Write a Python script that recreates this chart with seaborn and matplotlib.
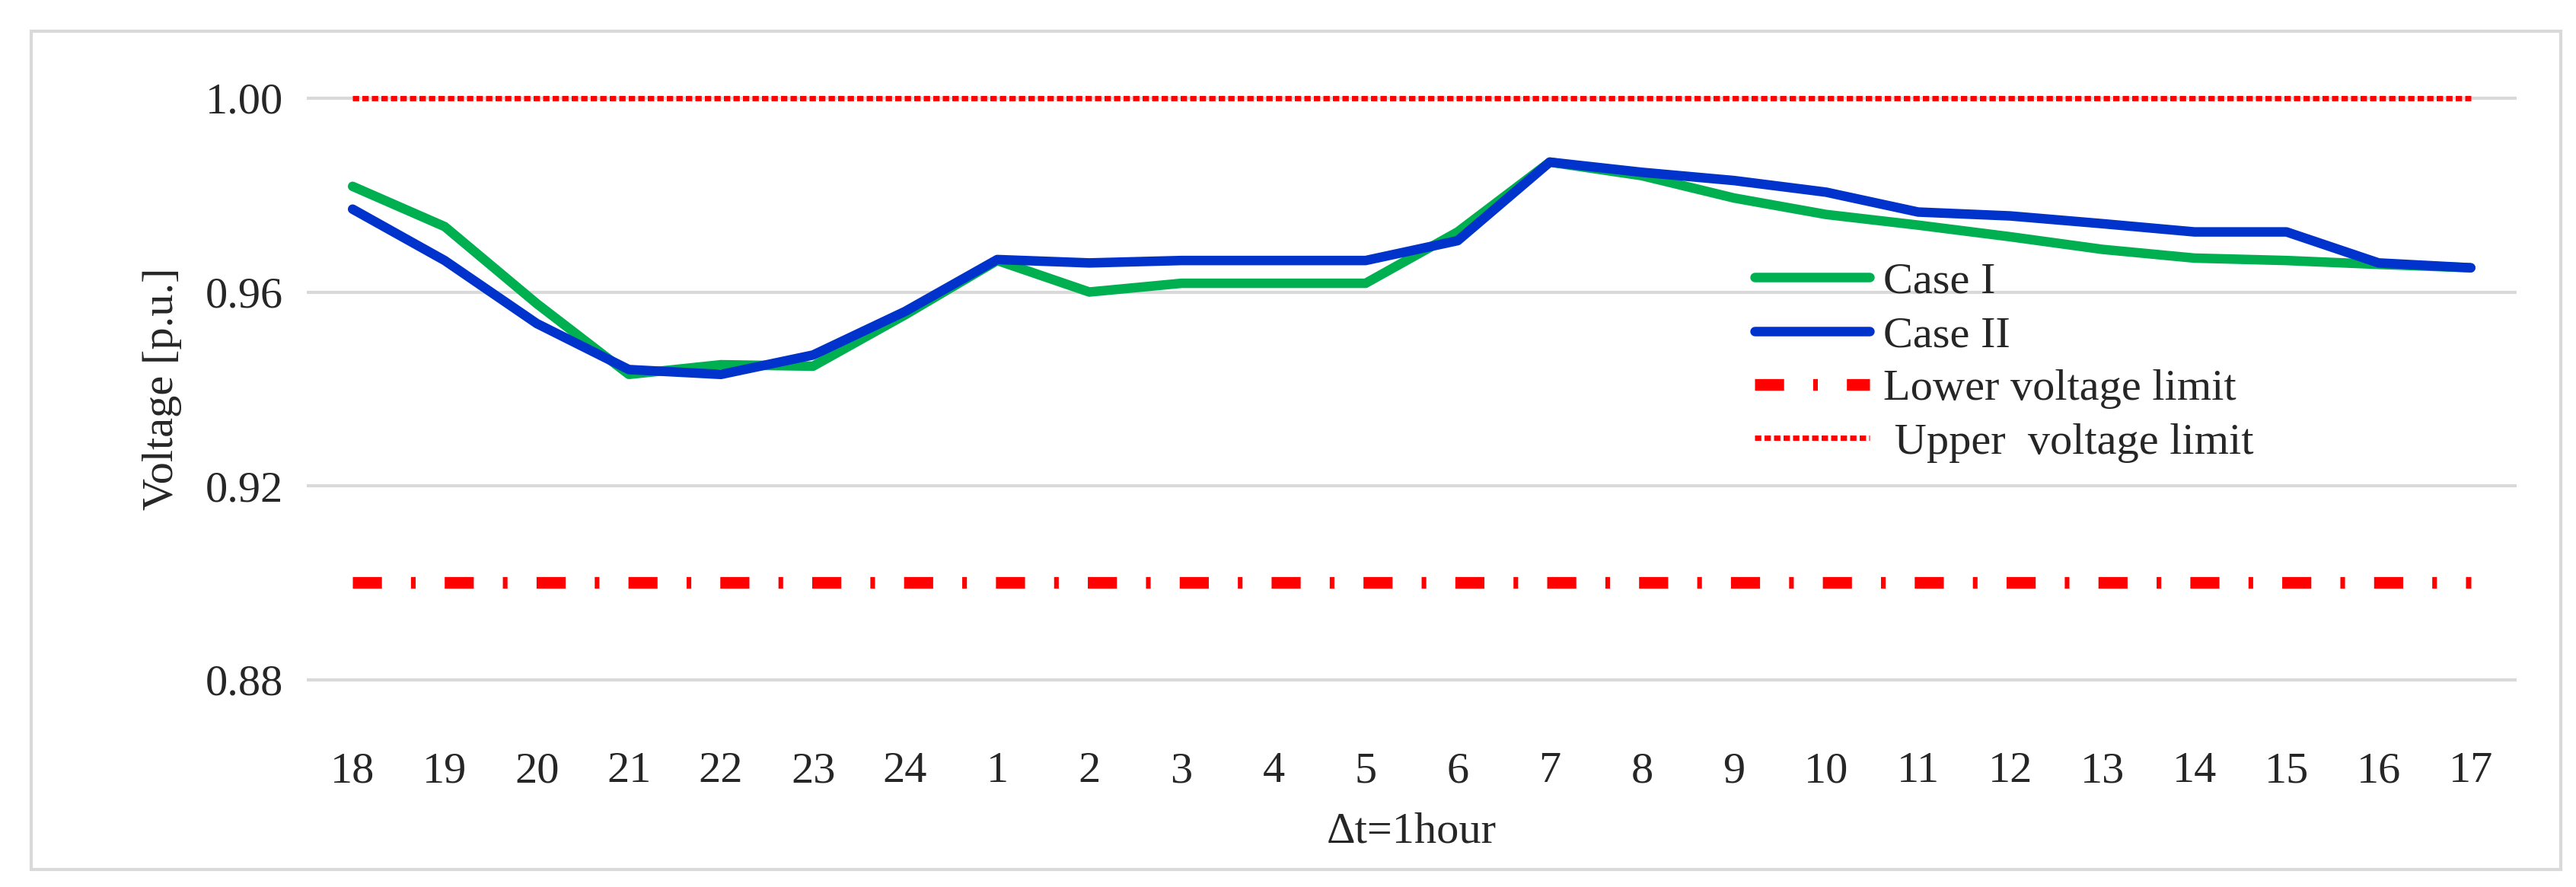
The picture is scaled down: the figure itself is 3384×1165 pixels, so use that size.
import matplotlib
matplotlib.use("Agg")
import matplotlib.pyplot as plt
import seaborn as sns
import pandas as pd

hours = ['18', '19', '20', '21', '22', '23', '24', '1', '2', '3', '4', '5',
         '6', '7', '8', '9', '10', '11', '12', '13', '14', '15', '16', '17']
case1 = [0.9818, 0.9735, 0.9576, 0.9430, 0.9450, 0.9447, 0.9553, 0.9665,
         0.9600, 0.9618, 0.9618, 0.9618, 0.9724, 0.9868, 0.9840, 0.9794,
         0.9760, 0.9738, 0.9714, 0.9688, 0.9670, 0.9665, 0.9657, 0.9650]
case2 = [0.9771, 0.9665, 0.9535, 0.9440, 0.9430, 0.9470, 0.9560, 0.9667,
         0.9660, 0.9665, 0.9665, 0.9665, 0.9706, 0.9868, 0.9847, 0.9830,
         0.9806, 0.9765, 0.9757, 0.9741, 0.9724, 0.9724, 0.9660, 0.9650]
lower_limit = 0.90
upper_limit = 1.00

df = pd.DataFrame({'x': range(len(hours)), 'Case I': case1, 'Case II': case2})

sns.set_style("white")
plt.rcParams['font.family'] = ['Liberation Serif', 'DejaVu Serif']

fig = plt.figure(figsize=(33.84, 11.65), dpi=100)
ax = fig.add_axes([0.119, 0.179, 0.858, 0.765])

# light grey outer frame
fig.patches.append(plt.Rectangle((0.012, 0.02), 0.982, 0.945, transform=fig.transFigure,
                                 fill=False, edgecolor='#d9d9d9', linewidth=3))

for y in [0.88, 0.92, 0.96, 1.00]:
    ax.axhline(y, color='#d9d9d9', linewidth=3, zorder=0)

sns.lineplot(data=df, x='x', y='Case I', color='#00b050', linewidth=9, label='Case I', ax=ax)
sns.lineplot(data=df, x='x', y='Case II', color='#0033cc', linewidth=9, label='Case II', ax=ax)
ax.plot(df['x'], [lower_limit] * len(hours), color='#ff0000', linewidth=11,
        linestyle=(0, (2.5, 2.5, 0.4, 2.5)), label='Lower voltage limit')
ax.plot(df['x'], [upper_limit] * len(hours), color='#ff0000', linewidth=5,
        linestyle=(0, (1.2, 0.6)), label=' Upper  voltage limit')

ax.set_xlim(-0.5, len(hours) - 0.5)
ax.set_ylim(0.87, 1.01)
ax.set_xticks(range(len(hours)))
ax.set_xticklabels(hours)
ax.set_yticks([0.88, 0.92, 0.96, 1.00])
ax.set_yticklabels(['0.88', '0.92', '0.96', '1.00'])
ax.tick_params(axis='both', labelsize=42, length=0, pad=22)
ax.set_xlabel('Δt=1hour', fontsize=42, labelpad=20)
ax.set_ylabel('Voltage [p.u.]', fontsize=42, labelpad=22)
for s in ax.spines.values():
    s.set_visible(False)

ax.legend(loc='upper left', bbox_to_anchor=(0.645, 0.72), frameon=False, fontsize=42,
          handlelength=2.6, labelspacing=0.3, handletextpad=0.3, borderpad=0)

fig.savefig('out.png', dpi=100)
